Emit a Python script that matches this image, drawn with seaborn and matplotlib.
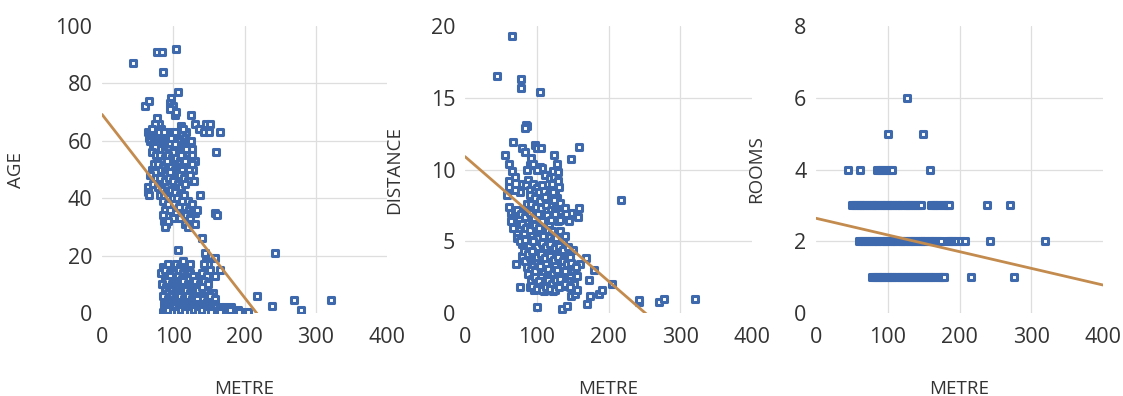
import pandas as pd
import matplotlib
matplotlib.use('Agg')
import matplotlib.pyplot as plt
import seaborn as sns

# METRE vs AGE
age_points = [
    (44, 87), (77, 91), (84, 91), (104, 92), (86, 84),
    (106, 77), (97, 75), (95, 73), (99, 72), (96, 71), (61, 72), (66, 74), (102, 69), (104, 70),
    (77, 68), (80, 66), (74, 66), (83, 64),
    (125, 69), (130, 66), (136, 64), (146, 66), (151, 66), (143, 63), (150, 63), (165, 63), (160, 56),
    (111, 65), (118, 63), (113, 64),
    (64, 63), (68, 62), (72, 63), (76, 62), (80, 63), (86, 61), (90, 62), (94, 63), (98, 62), (102, 61),
    (106, 62), (110, 61), (114, 60), (118, 59), (123, 58), (127, 57),
    (66, 61), (70, 64), (74, 60), (78, 61), (82, 60), (87, 63), (92, 60), (97, 61), (103, 63), (107, 60),
    (112, 62), (117, 61), (121, 60), (125, 60),
    (67, 60), (72, 59), (79, 59), (84, 58), (89, 58), (95, 59), (100, 57), (105, 58), (110, 57), (116, 56),
    (121, 55), (126, 55), (93, 57), (87, 56), (99, 56), (103, 59), (108, 55), (113, 57), (118, 57),
    (80, 57), (74, 58),
    (70, 56), (76, 55), (82, 55), (88, 54), (93, 55), (98, 54), (104, 54), (109, 53), (114, 54), (119, 52),
    (124, 53), (130, 53), (128, 50), (96, 53), (101, 52), (106, 51), (111, 55), (117, 53), (122, 50),
    (127, 52), (86, 53), (91, 53),
    (73, 52), (79, 52), (85, 51), (91, 50), (97, 51), (102, 50), (107, 49), (112, 50), (118, 48), (123, 48),
    (129, 46), (84, 49), (90, 48), (95, 49), (105, 47), (110, 48), (115, 47), (120, 46), (80, 50),
    (70, 50), (75, 49),
    (68, 48), (76, 47), (82, 47), (88, 46), (94, 47), (100, 46), (106, 45), (111, 44), (116, 45),
    (64, 44), (65, 42), (66, 41), (72, 45), (78, 44), (84, 43), (91, 42), (97, 43), (103, 42), (110, 41),
    (115, 41), (121, 39), (127, 38),
    (81, 41), (87, 41), (94, 40), (99, 40), (105, 40), (112, 39), (117, 37), (122, 36),
    (86, 39), (93, 38), (101, 38), (108, 37), (113, 35), (118, 34), (124, 33), (131, 31),
    (89, 36), (96, 36), (104, 35), (110, 33), (116, 31), (121, 30), (127, 35), (99, 33),
    (85, 34), (87, 32), (90, 31), (92, 32), (88, 30),
    (137, 41), (131, 35), (134, 36), (159, 35), (162, 34), (140, 26), (145, 21), (146, 18), (149, 17),
    (158, 19), (165, 15), (159, 13),
    (106, 22), (243, 21),
    (85, 16), (92, 17), (98, 15), (104, 17), (110, 16), (114, 18), (119, 15), (124, 17),
    (83, 14), (89, 15), (95, 14), (102, 14), (108, 15), (113, 14), (118, 13), (123, 14), (135, 13),
    (88, 12), (96, 13), (101, 11), (107, 13), (112, 12), (117, 10), (122, 12), (128, 13), (134, 11),
    (140, 14), (143, 17), (151, 15), (147, 13),
    (91, 11), (98, 10), (103, 10), (109, 11), (114, 11), (120, 10), (126, 10), (129, 11), (131, 11),
    (137, 10), (143, 11),
    (84, 10), (90, 9), (95, 8), (100, 9), (106, 8), (111, 9), (116, 7), (121, 9), (127, 8), (132, 9),
    (138, 7), (144, 8), (149, 10), (156, 7),
    (88, 8), (93, 7), (98, 8), (103, 7), (108, 7), (113, 8), (118, 8), (124, 7), (129, 7), (135, 8),
    (140, 9), (146, 6), (151, 6), (159, 5),
    (86, 6), (92, 5), (98, 6), (103, 5), (109, 6), (115, 5), (120, 6), (126, 5), (131, 6), (137, 4),
    (142, 5), (148, 4), (153, 3),
    (89, 4), (95, 4), (101, 4), (107, 4), (113, 4), (119, 4), (124, 4), (130, 4), (134, 5), (140, 3),
    (146, 3), (152, 2), (158, 3),
    (87, 3), (93, 2), (99, 3), (105, 2), (111, 3), (117, 2), (123, 3), (129, 2), (135, 3), (141, 2),
    (147, 2), (154, 1), (160, 2), (166, 2), (172, 2), (178, 1), (184, 1), (191, 1),
    (88, 2), (96, 2), (102, 2), (108, 2), (114, 2), (120, 2), (126, 2), (132, 2), (138, 2), (144, 1),
    (150, 2), (164, 1), (170, 1), (181, 2),
    (85, 0.5), (90, 0.5), (96, 1), (102, 0.5), (108, 1), (114, 0.5), (120, 1), (126, 0.5), (132, 1),
    (138, 0.5), (144, 0.5), (150, 1), (157, 0.5), (163, 0.5), (169, 1), (175, 0.5), (186, 0.5),
    (197, 0.5), (205, 0.5),
    (88, 1), (93, 1), (99, 0.5), (105, 0.5), (111, 1), (117, 0.5), (123, 0.5), (129, 1), (135, 0.5),
    (141, 1), (147, 0.5), (153, 0.5), (166, 0.5), (180, 1), (192, 0.5),
    (217, 6), (238, 2.5), (270, 4.5), (279, 1), (321, 4.5),
]

# METRE vs DISTANCE (middle panel)
distance_points = [
    (66, 19.3), (44, 16.5), (78, 16.3), (78, 15.7), (105, 15.4), (85, 13.1), (86, 13.0), (84, 12.9),
    (67, 11.9), (56, 11.0), (79, 11.5), (97, 11.7), (101, 11.5), (106, 11.5), (124, 11.0), (128, 10.4),
    (123, 9.9), (148, 10.7), (159, 11.6), (84, 11.2), (92, 10.8), (90, 10.3), (104, 10.2), (108, 10.1),
    (61, 10.4), (65, 9.9), (70, 9.5), (61, 9.2), (61, 8.8), (58, 8.2),
    (86, 10.0), (95, 10.4), (100, 10.0), (112, 9.6), (118, 9.4), (124, 9.5), (130, 9.8), (80, 9.0),
    (76, 8.4), (70, 8.6),
    (218, 7.9), (159, 7.3), (157, 6.7), (148, 7.0), (71, 3.4), (76, 1.8), (101, 0.4), (135, 0.3),
    (142, 0.5), (170, 0.6), (148, 1.2), (174, 1.2), (187, 1.3), (191, 1.6), (173, 2.3), (205, 2.0),
    (168, 3.8), (180, 3.0), (242, 0.8), (243, 0.9), (270, 0.8), (277, 1.0), (320, 1.0),
    (88, 9.3), (95, 9.0), (100, 8.7), (108, 8.9), (115, 8.6), (121, 9.0), (126, 8.4), (131, 8.8), (130, 9.2),
    (85, 8.9), (91, 8.6), (97, 8.4), (103, 8.4), (110, 8.5), (117, 8.2), (122, 8.4), (128, 8.0),
    (90, 8.2), (97, 8.0), (104, 7.8), (111, 8.1), (118, 7.6), (124, 7.9), (129, 7.4),
    (86, 7.6), (92, 7.6), (99, 7.4), (106, 7.3), (113, 7.5), (120, 7.2), (126, 7.1), (132, 7.7), (139, 7.3),
    (64, 7.0), (70, 6.8), (75, 6.6), (81, 7.1), (87, 6.9), (93, 6.5), (99, 6.8), (105, 6.3), (111, 6.6),
    (117, 6.2), (123, 6.7), (130, 6.4), (136, 6.7), (141, 6.9), (145, 6.4),
    (62, 7.4), (66, 6.6), (72, 7.2), (78, 6.9), (84, 6.7), (90, 7.0), (96, 6.6), (102, 6.9), (108, 6.4),
    (114, 6.8), (120, 6.5), (126, 6.9), (133, 6.5),
    (64, 6.4), (69, 6.0), (76, 5.8), (82, 5.6), (88, 6.0), (94, 5.5), (100, 5.2), (106, 5.7), (112, 5.0),
    (118, 5.4), (124, 5.1), (130, 5.5), (136, 5.0),
    (67, 5.9), (72, 5.5), (79, 6.2), (85, 5.9), (91, 5.8), (97, 6.1), (103, 5.9), (109, 5.4), (115, 5.8),
    (121, 5.7), (127, 5.2), (133, 5.7), (139, 5.4),
    (73, 5.2), (80, 4.8), (86, 4.5), (92, 4.9), (98, 4.4), (104, 4.7), (110, 4.2), (116, 4.5), (122, 4.1),
    (128, 4.4), (134, 4.0), (140, 4.3), (146, 3.9), (150, 4.4),
    (77, 5.0), (83, 5.1), (89, 4.7), (95, 5.0), (101, 4.6), (107, 4.9), (113, 4.6), (119, 4.8), (125, 4.5),
    (131, 4.7), (137, 4.4), (143, 4.6),
    (79, 4.0), (84, 3.6), (90, 3.9), (95, 3.3), (101, 3.6), (107, 3.1), (113, 3.4), (119, 3.0), (125, 3.3),
    (131, 2.9), (137, 3.2), (143, 2.7), (150, 3.0), (156, 2.6), (160, 3.4),
    (82, 4.3), (88, 4.1), (94, 4.3), (100, 3.9), (106, 4.1), (112, 3.8), (118, 4.0), (124, 3.7), (130, 3.9),
    (136, 3.6), (142, 3.4), (148, 3.5), (155, 3.2),
    (86, 3.2), (92, 3.0), (98, 2.9), (104, 3.3), (110, 2.8), (116, 3.1), (122, 2.7), (128, 3.0), (134, 2.6),
    (140, 2.9), (147, 2.5),
    (88, 2.7), (94, 2.4), (100, 2.1), (106, 2.5), (112, 2.2), (118, 2.0), (124, 2.4), (130, 2.1),
    (136, 1.9), (144, 2.2), (152, 2.0),
    (92, 2.2), (98, 2.5), (103, 2.2), (109, 1.9), (115, 2.3), (121, 2.0), (127, 2.3), (133, 2.4),
    (140, 2.0), (147, 1.8),
    (90, 1.8), (96, 1.6), (104, 1.8), (110, 1.5), (116, 1.7), (122, 1.5), (128, 1.8), (153, 1.3), (156, 1.6),
    (94, 1.9), (100, 1.7), (107, 1.6), (113, 1.8), (119, 1.7), (125, 1.6), (131, 1.8),
]

# METRE vs ROOMS (right panel)
rooms_points = [
    (127, 6), (101, 5), (149, 5),
    (44, 4), (62, 4), (85, 4), (88, 4), (91, 4), (95, 4), (98, 4), (102, 4), (106, 4), (159, 4),
    (50, 3), (53, 3), (55, 3), (58, 3), (61, 3), (63, 3), (66, 3), (68, 3), (71, 3), (74, 3), (76, 3),
    (79, 3), (82, 3), (84, 3), (87, 3), (90, 3), (92, 3), (95, 3), (98, 3), (100, 3), (103, 3), (106, 3),
    (108, 3), (111, 3), (114, 3), (116, 3), (119, 3), (122, 3), (125, 3), (127, 3), (130, 3), (133, 3),
    (135, 3), (138, 3), (141, 3), (144, 3), (147, 3),
    (160, 3), (163, 3), (166, 3), (169, 3), (172, 3), (175, 3), (178, 3), (181, 3), (184, 3), (186, 3),
    (238, 3), (270, 3),
    (60, 2), (63, 2), (65, 2), (68, 2), (71, 2), (74, 2), (76, 2), (79, 2), (82, 2), (85, 2), (87, 2),
    (90, 2), (93, 2), (96, 2), (98, 2), (101, 2), (104, 2), (107, 2), (109, 2), (112, 2), (115, 2),
    (118, 2), (120, 2), (123, 2), (126, 2), (129, 2), (131, 2), (134, 2), (137, 2), (140, 2), (143, 2),
    (146, 2), (148, 2), (151, 2), (154, 2), (157, 2), (160, 2), (163, 2), (166, 2), (170, 2), (174, 2),
    (184, 2), (187, 2), (190, 2), (193, 2), (196, 2), (202, 2), (208, 2), (243, 2), (319, 2),
    (78, 1), (81, 1), (83, 1), (86, 1), (89, 1), (92, 1), (94, 1), (97, 1), (100, 1), (103, 1), (106, 1),
    (108, 1), (111, 1), (114, 1), (117, 1), (120, 1), (122, 1), (125, 1), (128, 1), (131, 1), (134, 1),
    (137, 1), (139, 1), (142, 1), (145, 1), (148, 1), (151, 1), (154, 1), (156, 1), (159, 1), (162, 1),
    (165, 1), (168, 1), (171, 1), (174, 1), (177, 1), (179, 1),
    (216, 1), (276, 1),
]

# trendline intercepts / slopes
trend_intercept = [69.2, 10.9, 2.64]
trend_slope = [-0.319, -0.0434, -0.00465]
trend_x = [0, 400]

y_names = ['AGE', 'DISTANCE', 'ROOMS']
y_limits = [(0, 100), (0, 20), (0, 8)]
y_ticks = [[0, 20, 40, 60, 80, 100], [0, 5, 10, 15, 20], [0, 2, 4, 6, 8]]
x_ticks = [0, 100, 200, 300, 400]

sns.set_theme(style='white')
plt.rcParams['font.family'] = ['Open Sans', 'DejaVu Sans']

azul = '#3f69ad'
laranja = '#c38b4e'
texto = '#333333'

fig = plt.figure(figsize=(11.23, 3.96), dpi=100)
lefts = [102, 465, 816]
widths = [285, 287, 287]
label_off = [0.27, 0.216, 0.178]

for i, pontos in enumerate([age_points, distance_points, rooms_points]):
    ax = fig.add_axes([lefts[i] / 1123, (396 - 313) / 396, widths[i] / 1123, 287 / 396])
    df = pd.DataFrame(pontos, columns=['METRE', y_names[i]])

    df_trend = pd.DataFrame({'METRE': trend_x})
    df_trend['y'] = trend_intercept[i] + trend_slope[i] * df_trend['METRE']

    sns.lineplot(data=df_trend, x='METRE', y='y', color=laranja, linewidth=2.0, ax=ax, zorder=3)
    sns.scatterplot(
        data=df, x='METRE', y=y_names[i], ax=ax,
        marker='s', s=18, color='white', edgecolor=azul, linewidth=2.2, zorder=2
    )

    ax.set_xlim(0, 400)
    ax.set_ylim(*y_limits[i])
    ax.set_xticks(x_ticks)
    ax.set_yticks(y_ticks[i])
    ax.grid(True, color='#dedede', linewidth=0.9)
    ax.set_axisbelow(True)
    for j, linha in enumerate(ax.get_xgridlines()):
        if j in (0, len(x_ticks) - 1):
            linha.set_visible(False)
    for j, linha in enumerate(ax.get_ygridlines()):
        if j in (0, len(y_ticks[i]) - 1):
            linha.set_visible(False)
    for spine in ax.spines.values():
        spine.set_visible(False)

    ax.tick_params(axis='x', length=0, pad=10, labelsize=15.5, labelcolor=texto)
    ax.tick_params(axis='y', length=0, pad=7, labelsize=15.5, labelcolor=texto)
    ax.set_xlabel('METRE', fontsize=13.5, color=texto)
    ax.set_ylabel(y_names[i], fontsize=13.5, color=texto)
    ax.xaxis.set_label_coords(0.5, -0.234)
    ax.xaxis.label.set_va('top')
    ax.yaxis.set_label_coords(-label_off[i], 0.5)

fig.savefig('out.png', dpi=100, facecolor='white')
